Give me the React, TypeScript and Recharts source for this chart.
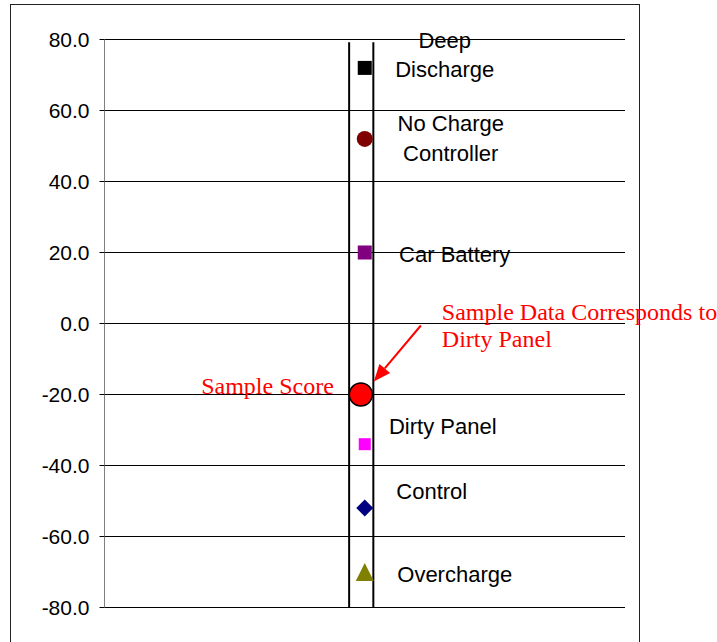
import {
  CartesianGrid,
  ComposedChart,
  ReferenceLine,
  Scatter,
  XAxis,
  YAxis,
} from "recharts";

// failure-mode reference scores
const conditions = [
  "Deep Discharge",
  "No Charge Controller",
  "Car Battery",
  "Dirty Panel",
  "Control",
  "Overcharge",
];
const conditionLines = [
  ["Deep", "Discharge"],
  ["No Charge", "Controller"],
  ["Car Battery"],
  ["Dirty Panel"],
  ["Control"],
  ["Overcharge"],
];
const scores = [72, 52, 20, -34, -52, -70];

const sampleLabel = "Sample Score";
const sampleNote = ["Sample Data Corresponds to", "Dirty Panel"];
const sampleScore = -20;

const yTicks = [80, 60, 40, 20, 0, -20, -40, -60, -80];
const bandEdges = [0.94, 1.033];
const bandTop = 79.2;

const W = 717;
const H = 642;
const SANS = "'Liberation Sans', Arial, sans-serif";
const SERIF = "'Liberation Serif', 'Times New Roman', serif";

// marker look + label offset (dx, dy per line) for each condition
const markerStyle = [
  { kind: "square", color: "#000000", size: 14, dx: 80, dy: [-28, 1] },
  { kind: "circle", color: "#800000", size: 16, dx: 86, dy: [-16, 14] },
  { kind: "square", color: "#800080", size: 14, dx: 90, dy: [2] },
  { kind: "square", color: "#FF00FF", size: 12, dx: 78, dy: [-18] },
  { kind: "diamond", color: "#000080", size: 17, dx: 67, dy: [-17] },
  { kind: "triangle", color: "#808000", size: 18, dx: 90, dy: [2] },
];

const condData = conditions.map((name, i) => ({ name, i, x: 1, y: scores[i] }));
const sampleData = [{ name: sampleLabel, x: 0.985, y: sampleScore }];

function ConditionMark(props: any) {
  const { cx, cy, payload } = props;
  const st = markerStyle[payload.i];
  const s = st.size;
  let mark;
  if (st.kind === "square") {
    mark = <rect x={cx - s / 2} y={cy - s / 2} width={s} height={s} fill={st.color} />;
  } else if (st.kind === "circle") {
    mark = <circle cx={cx} cy={cy} r={s / 2} fill={st.color} />;
  } else if (st.kind === "diamond") {
    const h = s / 2;
    mark = (
      <polygon
        points={`${cx},${cy - h} ${cx + h},${cy} ${cx},${cy + h} ${cx - h},${cy}`}
        fill={st.color}
      />
    );
  } else {
    const h = s / 2;
    mark = (
      <polygon
        points={`${cx},${cy - h} ${cx + h},${cy + h} ${cx - h},${cy + h}`}
        fill={st.color}
      />
    );
  }
  return (
    <g>
      {mark}
      {conditionLines[payload.i].map((line, k) => (
        <text
          key={k}
          x={cx + st.dx}
          y={cy + st.dy[k]}
          dy="0.35em"
          textAnchor="middle"
          fontFamily={SANS}
          fontSize={22}
          fill="#000"
        >
          {line}
        </text>
      ))}
    </g>
  );
}

function SampleMark(props: any) {
  const { cx, cy } = props;
  // arrow from the note down to the sample point
  const sx = cx + 60;
  const sy = cy - 69;
  const tx = cx + 13;
  const ty = cy - 13;
  const len = Math.hypot(tx - sx, ty - sy);
  const ux = (tx - sx) / len;
  const uy = (ty - sy) / len;
  const bx = tx - 17 * ux;
  const by = ty - 17 * uy;
  const nx = -uy;
  const ny = ux;
  return (
    <g>
      <circle cx={cx} cy={cy} r={11.5} fill="#FF0000" stroke="#000" strokeWidth={1.5} />
      <line x1={sx} y1={sy} x2={bx} y2={by} stroke="#FF0000" strokeWidth={2} />
      <polygon
        points={`${tx},${ty} ${bx + 7 * nx},${by + 7 * ny} ${bx - 7 * nx},${by - 7 * ny}`}
        fill="#FF0000"
      />
      <text
        x={cx - 27}
        y={cy - 1}
        textAnchor="end"
        fontFamily={SERIF}
        fontSize={24}
        fill="#FF0000"
      >
        {sampleLabel}
      </text>
      {sampleNote.map((line, k) => (
        <text
          key={k}
          x={cx + 81}
          y={cy - 75 + k * 27}
          fontFamily={SERIF}
          fontSize={24}
          fill="#FF0000"
        >
          {line}
        </text>
      ))}
    </g>
  );
}

export default function App() {
  return (
    <div
      style={{
        position: "absolute",
        left: 0,
        top: 0,
        width: W,
        height: H,
        overflow: "hidden",
        background: "#fff",
      }}
    >
      <div
        style={{
          position: "absolute",
          left: 10,
          top: 4,
          width: 628,
          height: 700,
          border: "1.5px solid #222",
        }}
      />
      <div style={{ position: "absolute", left: 0, top: 0 }}>
        <ComposedChart
          width={W}
          height={H}
          margin={{ top: 39.5, right: 92, bottom: 34.5, left: 0.5 }}
        >
          <CartesianGrid vertical={false} stroke="#000" strokeWidth={1} />
          <XAxis type="number" dataKey="x" domain={[0, 2]} hide />
          <YAxis
            type="number"
            dataKey="y"
            domain={[-80, 80]}
            ticks={yTicks}
            interval={0}
            width={104}
            tickFormatter={(v: number) => v.toFixed(1)}
            tick={{ fill: "#000", fontSize: 21, fontFamily: SANS }}
            tickSize={5}
            tickMargin={10}
            tickLine={{ stroke: "#000", strokeWidth: 1 }}
            axisLine={{ stroke: "#808080", strokeWidth: 1 }}
          />
          {bandEdges.map((e) => (
            <ReferenceLine
              key={e}
              segment={[
                { x: e, y: bandTop },
                { x: e, y: -80 },
              ]}
              stroke="#000"
              strokeWidth={2}
            />
          ))}
          <Scatter data={condData} shape={ConditionMark} isAnimationActive={false} />
          <Scatter data={sampleData} shape={SampleMark} isAnimationActive={false} />
        </ComposedChart>
      </div>
    </div>
  );
}
